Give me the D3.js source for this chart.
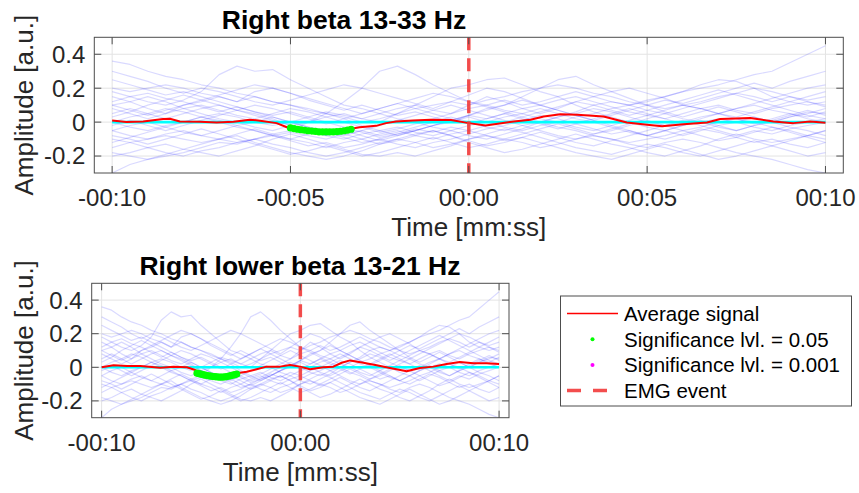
<!DOCTYPE html>
<html><head><meta charset="utf-8">
<script src="https://cdn.jsdelivr.net/npm/d3@7"></script>
<style>html,body{margin:0;padding:0;background:#fff;}svg{display:block;}</style>
</head><body><svg id="c" width="859" height="493"></svg>
<script>
// ---------------- data ----------------
const titles = ["Right beta 13-33 Hz", "Right lower beta 13-21 Hz"];
const xLabel = "Time [mm:ss]";
const yLabel = "Amplitude [a.u.]";
const xTicksTop = [-10, -5, 0, 5, 10];
const xTickLabelsTop = ["-00:10", "-00:05", "00:00", "00:05", "00:10"];
const xTicksBottom = [-10, 0, 10];
const xTickLabelsBottom = ["-00:10", "00:00", "00:10"];
const yTicks = [-0.2, 0, 0.2, 0.4];
const yTickLabels = ["-0.2", "0", "0.2", "0.4"];
const emgEventTime = 0;

const trialTimes = [-10,-9.5,-9,-8.5,-8,-7.5,-7,-6.5,-6,-5.5,-5,-4.5,-4,-3.5,-3,-2.5,-2,-1.5,-1,-0.5,0,0.5,1,1.5,2,2.5,3,3.5,4,4.5,5,5.5,6,6.5,7,7.5,8,8.5,9,9.5,10];
const trialA = [0.36,0.34,0.3,0.27,0.25,0.22,0.2,0.17,0.15,0.12,0.1,0.08,0.05,0.02,-0.02,-0.05,-0.03,-0.06,-0.08,-0.05,-0.02,0,0.03,0.05,0.02,0,-0.03,-0.05,-0.02,0.01,0.04,0.02,0.05,0.08,0.1,0.07,0.05,0.08,0.1,0.12,0.1];
const trialB = [0.18,0.15,0.12,0.1,0.13,0.18,0.28,0.33,0.3,0.31,0.25,0.2,0.15,0.1,0.08,0.05,0.02,0,-0.03,-0.05,-0.08,-0.1,-0.07,-0.04,0,0.03,0.06,0.1,0.12,0.1,0.07,0.05,0.02,0,-0.03,-0.05,-0.02,0,0.03,0.05,0.08];
const trialC = [-0.05,-0.08,-0.1,-0.07,-0.05,-0.08,-0.1,-0.12,-0.1,-0.07,-0.05,0,0.05,0.12,0.2,0.3,0.33,0.28,0.22,0.17,0.12,0.1,0.07,0.05,0.08,0.05,0.02,0,-0.03,-0.06,-0.08,-0.05,-0.02,0,0.02,0,-0.03,-0.05,-0.02,0,0.02];
const trialD = [0.1,0.12,0.15,0.12,0.08,0.05,0.02,0,-0.03,-0.05,-0.02,0,0.03,0.05,0.02,0,0.05,0.1,0.15,0.2,0.22,0.25,0.26,0.22,0.18,0.15,0.1,0.06,0.03,0,-0.03,-0.05,-0.08,-0.05,-0.02,0,0.03,0,-0.03,-0.05,-0.08];
const trialE = [0,-0.03,-0.05,-0.02,0,0.03,0.05,0.03,0,-0.02,0,0.03,0.06,0.04,0.02,0.05,0.08,0.1,0.07,0.05,0.08,0.1,0.13,0.1,0.12,0.15,0.18,0.15,0.12,0.1,0.13,0.15,0.18,0.2,0.22,0.25,0.28,0.3,0.35,0.4,0.45];
const trialF = [-0.3,-0.25,-0.22,-0.2,-0.18,-0.15,-0.12,-0.13,-0.1,-0.08,-0.1,-0.12,-0.15,-0.12,-0.1,-0.07,-0.05,-0.08,-0.1,-0.07,-0.05,-0.02,0,0.03,0,-0.03,-0.05,-0.08,-0.1,-0.12,-0.1,-0.08,-0.05,-0.03,0,0.02,0,-0.03,-0.05,-0.08,-0.1];
const trialG = [-0.1,-0.12,-0.15,-0.18,-0.2,-0.17,-0.15,-0.12,-0.1,-0.13,-0.15,-0.18,-0.2,-0.18,-0.15,-0.12,-0.1,-0.12,-0.15,-0.13,-0.1,-0.08,-0.1,-0.12,-0.15,-0.13,-0.1,-0.08,-0.1,-0.13,-0.15,-0.12,-0.1,-0.12,-0.15,-0.18,-0.2,-0.22,-0.25,-0.28,-0.3];
const trialH = [0.05,0.08,0.05,0.02,0.05,0.08,0.1,0.07,0.05,0.02,-0.02,-0.05,-0.08,-0.1,-0.07,-0.05,-0.08,-0.05,-0.02,0,0.03,0,-0.03,-0.05,-0.02,0,0.03,0.05,0.08,0.1,0.12,0.15,0.18,0.22,0.25,0.24,0.2,0.15,0.12,0.1,0.12];
const trialI = [0.2,0.18,0.2,0.22,0.2,0.17,0.15,0.12,0.15,0.12,0.1,0.07,0.05,0.03,0,0.02,0.05,0.08,0.1,0.12,0.1,0.13,0.15,0.18,0.2,0.22,0.2,0.17,0.15,0.12,0.1,0.08,0.1,0.12,0.15,0.17,0.15,0.12,0.15,0.13,0.15];
const trialJ = [0,0.03,0.05,0.08,0.06,0.03,0,-0.03,-0.05,-0.08,-0.06,-0.08,-0.1,-0.07,-0.05,-0.08,-0.06,-0.03,0,0.03,0,-0.03,-0.05,-0.02,0,0.03,0.05,0.08,0.06,0.03,0,-0.02,0,0.03,0.05,0.08,0.1,0.07,0.05,0.02,0];
const trialK = [-0.15,-0.12,-0.1,-0.08,-0.1,-0.12,-0.1,-0.08,-0.12,-0.15,-0.18,-0.2,-0.22,-0.2,-0.17,-0.13,-0.1,-0.07,-0.05,-0.08,-0.12,-0.15,-0.18,-0.16,-0.13,-0.1,-0.07,-0.1,-0.13,-0.15,-0.18,-0.2,-0.17,-0.14,-0.1,-0.07,-0.1,-0.12,-0.1,-0.08,-0.05];
const trialL = [0.15,0.12,0.08,0.05,0.08,0.1,0.07,0.04,0.02,0.05,0.08,0.06,0.03,0,-0.03,-0.06,-0.04,-0.01,0.02,0.05,0.1,0.15,0.12,0.08,0.05,0.08,0.12,0.15,0.18,0.2,0.17,0.14,0.1,0.08,0.05,0.03,0.06,0.09,0.12,0.15,0.18];
const trialM = [-0.05,-0.02,0,-0.03,-0.06,-0.08,-0.05,-0.02,0,0.03,0,-0.03,-0.06,-0.09,-0.12,-0.1,-0.13,-0.15,-0.12,-0.1,-0.07,-0.04,-0.02,0.01,0.04,0.02,-0.01,-0.04,-0.07,-0.05,-0.08,-0.1,-0.07,-0.04,-0.06,-0.09,-0.12,-0.1,-0.13,-0.15,-0.12];
const trialN = [0.08,0.05,0.02,0.05,0.1,0.12,0.15,0.12,0.18,0.2,0.17,0.13,0.1,0.07,0.1,0.07,0.04,0.06,0.03,0,0.04,0.08,0.1,0.15,0.2,0.25,0.27,0.22,0.18,0.14,0.1,0.06,0.03,0.06,0.09,0.06,0.03,0,0.03,0.06,0.05];
const trialO = [-0.2,-0.18,-0.15,-0.13,-0.16,-0.18,-0.2,-0.17,-0.14,-0.1,-0.07,-0.1,-0.13,-0.16,-0.19,-0.2,-0.18,-0.2,-0.17,-0.14,-0.1,-0.07,-0.04,-0.06,-0.09,-0.12,-0.15,-0.17,-0.19,-0.16,-0.13,-0.15,-0.18,-0.2,-0.17,-0.14,-0.11,-0.14,-0.17,-0.2,-0.18];
const trialP = [0.12,0.15,0.17,0.14,0.12,0.09,0.06,0.09,0.06,0.03,0,-0.03,-0.05,-0.08,-0.05,-0.02,0.01,0.04,0.07,0.1,0.07,0.04,0.01,-0.02,-0.05,-0.08,-0.1,-0.07,-0.04,-0.01,0.02,0.05,0.08,0.11,0.14,0.17,0.2,0.18,0.15,0.12,0.09];
const trialQ = [-0.12,-0.09,-0.06,-0.03,0,0.03,0.01,-0.02,-0.05,-0.08,-0.11,-0.14,-0.12,-0.15,-0.13,-0.1,-0.07,-0.04,-0.06,-0.03,-0.05,-0.08,-0.11,-0.09,-0.06,-0.09,-0.12,-0.14,-0.11,-0.08,-0.05,-0.02,0.01,-0.02,-0.05,-0.08,-0.05,-0.07,-0.04,-0.02,0];
const trialR = [0.25,0.22,0.19,0.16,0.18,0.15,0.12,0.09,0.06,0.04,0.06,0.03,0,-0.03,-0.06,-0.09,-0.07,-0.05,-0.02,0.01,0.04,0.02,0.05,0.08,0.1,0.13,0.15,0.12,0.09,0.06,0.04,0.07,0.1,0.08,0.05,0.02,-0.01,0.02,0.05,0.03,0.06];
const trialS = [0.3,0.27,0.24,0.2,0.17,0.2,0.18,0.15,0.12,0.1,0.13,0.16,0.19,0.22,0.2,0.17,0.14,0.11,0.08,0.12,0.16,0.2,0.18,0.14,0.1,0.07,0.04,0.01,0.04,0.07,0.1,0.13,0.11,0.14,0.17,0.2,0.23,0.2,0.24,0.27,0.3];
const trialT = [-0.08,-0.1,-0.13,-0.1,-0.07,-0.04,-0.07,-0.1,-0.13,-0.16,-0.19,-0.17,-0.14,-0.17,-0.2,-0.18,-0.15,-0.12,-0.09,-0.12,-0.15,-0.13,-0.1,-0.07,-0.04,-0.01,-0.04,-0.07,-0.05,-0.02,0.01,-0.02,-0.05,-0.08,-0.11,-0.09,-0.06,-0.03,-0.06,-0.09,-0.12];
const trialU = [0.03,0.06,0.1,0.13,0.16,0.13,0.1,0.07,0.1,0.08,0.05,0.02,-0.01,0.02,0.05,0.08,0.11,0.14,0.17,0.15,0.12,0.09,0.06,0.03,0.06,0.09,0.12,0.1,0.07,0.04,0.07,0.1,0.13,0.16,0.19,0.16,0.13,0.1,0.07,0.04,0.02];
const trialV = [-0.18,-0.2,-0.22,-0.19,-0.16,-0.13,-0.1,-0.07,-0.04,-0.07,-0.1,-0.07,-0.04,-0.07,-0.1,-0.13,-0.11,-0.08,-0.05,-0.08,-0.11,-0.14,-0.12,-0.09,-0.12,-0.15,-0.18,-0.2,-0.22,-0.19,-0.16,-0.13,-0.16,-0.19,-0.22,-0.2,-0.17,-0.14,-0.11,-0.08,-0.05];
const trialW = [0.1,0.07,0.04,0.07,0.1,0.13,0.16,0.19,0.22,0.2,0.17,0.14,0.11,0.08,0.05,0.08,0.11,0.08,0.05,0.02,-0.01,0.02,0.05,0.02,-0.01,-0.04,-0.01,0.02,0.05,0.08,0.05,0.02,-0.01,0.02,0.05,0.08,0.11,0.14,0.17,0.2,0.22];
const trialX = [-0.02,0.01,-0.02,-0.05,-0.02,0.01,0.04,0.07,0.04,0.01,-0.02,-0.05,-0.08,-0.05,-0.08,-0.11,-0.08,-0.05,-0.02,0.01,0.04,0.07,0.1,0.13,0.1,0.07,0.04,0.01,-0.02,-0.05,-0.08,-0.05,-0.02,0.01,-0.02,-0.05,-0.02,0.01,0.04,0.07,0.04];
const trials = [trialA,trialB,trialC,trialD,trialE,trialF,trialG,trialH,trialI,trialJ,trialK,trialL,trialM,trialN,trialO,trialP,trialQ,trialR,trialS,trialT,trialU,trialV,trialW,trialX];

// average signal, top panel (beta 13-33 Hz)
const betaAvgTimes = [-10,-9.6,-9.13,-8.57,-8.38,-8.1,-7.54,-7.07,-6.6,-6.14,-5.9,-5.39,-5.1,-4.74,-4.18,-3.8,-3.34,-3.06,-2.6,-2.32,-2.04,-1.57,-1.07,-0.5,0,0.47,1.26,1.73,2.1,2.57,3.04,3.78,4.43,5,5.42,6.02,6.68,7.05,7.89,8.54,9.1,9.57,10];
const betaAvgValues = [0.01,0,0.004,0.018,0.02,0.004,0.002,-0.002,0.002,0.014,0.01,-0.006,-0.03,-0.045,-0.058,-0.057,-0.04,-0.03,-0.022,-0.006,0.004,0.01,0.014,0.012,-0.006,-0.02,0.004,0.014,0.033,0.047,0.043,0.033,-0.002,-0.016,-0.025,-0.012,-0.002,0.018,0.024,0.004,-0.006,0.004,-0.004];
const betaSigTimes = [-5.0,-4.9,-4.8,-4.7,-4.6,-4.5,-4.4,-4.3,-4.2,-4.1,-4.0,-3.9,-3.8,-3.7,-3.6,-3.5,-3.4,-3.3];
const betaSigValues = [-0.034,-0.038,-0.042,-0.045,-0.048,-0.051,-0.053,-0.055,-0.057,-0.058,-0.058,-0.058,-0.057,-0.056,-0.054,-0.051,-0.047,-0.042];

// average signal, bottom panel (lower beta 13-21 Hz)
const lowBetaAvgTimes = [-10,-9.4,-8.72,-8.05,-7.05,-6.38,-5.71,-5.29,-5.04,-4.37,-3.7,-3.2,-2.7,-2.2,-1.7,-1.02,-0.52,-0.02,0.49,1.16,1.66,2.08,2.5,3.17,3.84,4.51,5.35,6.02,6.69,7.36,8.03,8.7,9.37,10];
const lowBetaAvgValues = [0,0.012,0.008,0.008,-0.002,0.004,0,-0.016,-0.035,-0.05,-0.055,-0.035,-0.027,-0.012,0.004,0.004,0.014,0.004,-0.012,0,0.004,0.027,0.041,0.027,0.012,-0.004,-0.024,-0.004,0.004,0.02,0.031,0.024,0.024,0.02];
const lowBetaSigTimes = [-5.2,-5.1,-5.0,-4.9,-4.8,-4.7,-4.6,-4.5,-4.4,-4.3,-4.2,-4.1,-4.0,-3.9,-3.8,-3.7,-3.6,-3.5,-3.4,-3.3,-3.2];
const lowBetaSigValues = [-0.035,-0.038,-0.041,-0.044,-0.047,-0.049,-0.051,-0.053,-0.055,-0.056,-0.057,-0.058,-0.058,-0.058,-0.057,-0.055,-0.053,-0.05,-0.047,-0.044,-0.04];

const legendLabels = ["Average signal", "Significance lvl. = 0.05", "Significance lvl. = 0.001", "EMG event"];

// ---------------- drawing ----------------
const svg = d3.select("#c");
const FONT = "'Liberation Sans', Arial, Helvetica, sans-serif";
const C = {
  trial: "#0000ff", avg: "#ff0000", sig: "#00ff00", sig2: "#ff00ff",
  zero: "#00ffff", emg: "#f23a3a", grid: "#e3e3e3", axis: "#4d4d4d", text: "#262626"
};

function panel(cfg) {
  const x = d3.scaleLinear().domain([-10.5, 10.5]).range([cfg.left, cfg.right]);
  const y = d3.scaleLinear().domain([-0.3, 0.5]).range([cfg.bottom, cfg.top]);
  const g = svg.append("g");
  const clipId = "clip" + cfg.id;
  g.append("clipPath").attr("id", clipId).append("rect")
    .attr("x", cfg.left).attr("y", cfg.top)
    .attr("width", cfg.right - cfg.left).attr("height", cfg.bottom - cfg.top);

  // grid
  g.append("g").selectAll("line").data(cfg.xTicks).join("line")
    .attr("x1", d => x(d)).attr("x2", d => x(d)).attr("y1", cfg.top).attr("y2", cfg.bottom)
    .attr("stroke", C.grid).attr("stroke-width", 1);
  g.append("g").selectAll("line").data(yTicks).join("line")
    .attr("y1", d => y(d)).attr("y2", d => y(d)).attr("x1", cfg.left).attr("x2", cfg.right)
    .attr("stroke", C.grid).attr("stroke-width", 1);

  const plot = g.append("g").attr("clip-path", `url(#${clipId})`);
  const line = d3.line().x(d => x(d[0])).y(d => y(d[1]));

  // trials
  plot.append("g").selectAll("path").data(trials).join("path")
    .attr("d", tr => line(tr.map((v, i) => [trialTimes[i], v])))
    .attr("fill", "none").attr("stroke", C.trial).attr("stroke-opacity", 0.15)
    .attr("stroke-width", 1.2).attr("stroke-linejoin", "round");

  // zero line
  plot.append("path").attr("d", line([[-10, 0], [10, 0]]))
    .attr("stroke", C.zero).attr("stroke-width", 2.6).attr("fill", "none");

  // average
  plot.append("path").attr("d", line(cfg.avgT.map((t, i) => [t, cfg.avgV[i]])))
    .attr("fill", "none").attr("stroke", C.avg).attr("stroke-width", 2)
    .attr("stroke-linejoin", "round");

  // significance markers
  plot.append("g").selectAll("circle").data(cfg.sigT).join("circle")
    .attr("cx", d => x(d)).attr("cy", (d, i) => y(cfg.sigV[i])).attr("r", 3.6)
    .attr("fill", C.sig);

  // EMG event
  plot.append("line").attr("x1", x(emgEventTime)).attr("x2", x(emgEventTime))
    .attr("y1", cfg.top).attr("y2", cfg.bottom)
    .attr("stroke", C.emg).attr("stroke-width", 3.5).attr("stroke-dasharray", "13,8")
    .attr("stroke-opacity", 0.9);

  // box
  g.append("rect").attr("x", cfg.left).attr("y", cfg.top)
    .attr("width", cfg.right - cfg.left).attr("height", cfg.bottom - cfg.top)
    .attr("fill", "none").attr("stroke", C.axis).attr("stroke-width", 1);

  // ticks (inside, on all sides)
  const tl = 7;
  const tg = g.append("g").attr("stroke", C.axis).attr("stroke-width", 1);
  cfg.xTicks.forEach(t => {
    tg.append("line").attr("x1", x(t)).attr("x2", x(t)).attr("y1", cfg.bottom).attr("y2", cfg.bottom - tl);
    tg.append("line").attr("x1", x(t)).attr("x2", x(t)).attr("y1", cfg.top).attr("y2", cfg.top + tl);
  });
  yTicks.forEach(t => {
    tg.append("line").attr("y1", y(t)).attr("y2", y(t)).attr("x1", cfg.left).attr("x2", cfg.left + tl);
    tg.append("line").attr("y1", y(t)).attr("y2", y(t)).attr("x1", cfg.right).attr("x2", cfg.right - tl);
  });

  // tick labels
  g.append("g").selectAll("text").data(cfg.xTicks).join("text")
    .attr("x", d => x(d)).attr("y", cfg.bottom + 33).attr("text-anchor", "middle")
    .attr("font-family", FONT).attr("font-size", 24).attr("fill", C.text)
    .text((d, i) => cfg.xTickLabels[i]);
  g.append("g").selectAll("text").data(yTicks).join("text")
    .attr("x", cfg.left - 9).attr("y", d => y(d)).attr("dy", "0.35em").attr("text-anchor", "end")
    .attr("font-family", FONT).attr("font-size", 24).attr("fill", C.text)
    .text((d, i) => yTickLabels[i]);

  // labels
  g.append("text").attr("x", (cfg.left + cfg.right) / 2).attr("y", cfg.bottom + 63)
    .attr("text-anchor", "middle").attr("font-family", FONT).attr("font-size", 26)
    .attr("fill", C.text).text(xLabel);
  const yc = (cfg.top + cfg.bottom) / 2;
  g.append("text").attr("transform", `translate(33,${yc}) rotate(-90)`)
    .attr("text-anchor", "middle").attr("font-family", FONT).attr("font-size", 26)
    .attr("fill", C.text).text(yLabel);
  g.append("text").attr("x", cfg.titleX).attr("y", cfg.titleY)
    .attr("text-anchor", "middle").attr("font-family", FONT).attr("font-size", 26.5)
    .attr("font-weight", "bold").attr("fill", "#000").text(cfg.title);
}

panel({ id: 1, left: 94.3, right: 843.3, top: 37.3, bottom: 173,
  xTicks: xTicksTop, xTickLabels: xTickLabelsTop,
  avgT: betaAvgTimes, avgV: betaAvgValues, sigT: betaSigTimes, sigV: betaSigValues,
  title: titles[0], titleX: 344, titleY: 29 });
panel({ id: 2, left: 91.7, right: 509, top: 283.3, bottom: 417.7,
  xTicks: xTicksBottom, xTickLabels: xTickLabelsBottom,
  avgT: lowBetaAvgTimes, avgV: lowBetaAvgValues, sigT: lowBetaSigTimes, sigV: lowBetaSigValues,
  title: titles[1], titleX: 300, titleY: 275 });

// legend
const lg = svg.append("g");
const L = { x: 560.5, y: 296, w: 291, h: 110, row0: 313.5, dy: 25.7, sx1: 567, sx2: 618, tx: 624 };
lg.append("rect").attr("x", L.x).attr("y", L.y).attr("width", L.w).attr("height", L.h)
  .attr("fill", "#fff").attr("stroke", C.axis).attr("stroke-width", 1);
legendLabels.forEach((lab, i) => {
  const yy = L.row0 + i * L.dy;
  if (i === 0) {
    lg.append("line").attr("x1", L.sx1).attr("x2", L.sx2).attr("y1", yy).attr("y2", yy)
      .attr("stroke", C.avg).attr("stroke-width", 1.5);
  } else if (i === 1 || i === 2) {
    lg.append("circle").attr("cx", (L.sx1 + L.sx2) / 2).attr("cy", yy).attr("r", 2)
      .attr("fill", i === 1 ? C.sig : C.sig2);
  } else {
    lg.append("line").attr("x1", L.sx1).attr("x2", L.sx2 - 11).attr("y1", yy).attr("y2", yy)
      .attr("stroke", C.emg).attr("stroke-width", 3.5).attr("stroke-dasharray", "14,12")
      .attr("stroke-opacity", 0.9);
  }
  lg.append("text").attr("x", L.tx).attr("y", yy).attr("dy", "0.36em")
    .attr("font-family", FONT).attr("font-size", 20.5).attr("fill", "#000").text(lab);
});
</script></body></html>
